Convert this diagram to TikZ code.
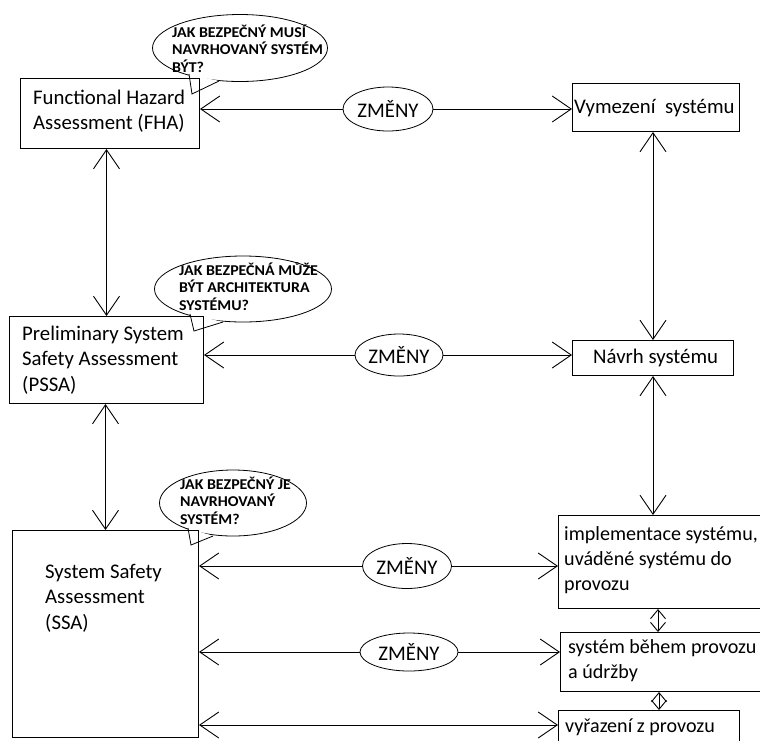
\documentclass[tikz,border=0pt]{standalone}
\usepackage{fontspec}
\setmainfont{Carlito}
\newfontfamily\notefont[FakeStretch=1.06]{Carlito}
\usetikzlibrary{arrows.meta,shapes.geometric,calc}
% several left-aligned lines, baseline at the first line
\newcommand\stacklines[1]{\begin{tabular}[t]{@{}l@{}}#1\end{tabular}}

\begin{document}
\begin{tikzpicture}[x=1pt,y=-1pt,
  box/.style={draw, line width=1pt, inner sep=0pt, anchor=north west},
  txt/.style={inner sep=0pt, anchor=base west, font=\fontsize{20.8}{25.6}\selectfont},
  txtr/.style={txt, font=\fontsize{20.1}{25}\selectfont},
  note/.style={inner sep=0pt, anchor=base west, font=\notefont\bfseries\fontsize{15}{17}\selectfont},
  chg/.style={draw, ellipse, line width=0.8pt, inner sep=0pt, font=\fontsize{20.8}{25.6}\selectfont},
  bubble/.style={draw, ellipse, line width=0.8pt, inner sep=0pt},
  barb/.tip={Straight Barb[length=19pt,width=26pt]},
  sbarb/.tip={Straight Barb[length=9pt,width=15pt]},
  link/.style={line width=0.9pt, -barb},
  both/.style={line width=0.9pt, barb-barb},
  short/.style={line width=0.9pt, sbarb-sbarb},
  tail/.style={line width=0.8pt, line join=miter}]

\useasboundingbox (0,0) rectangle (760,740);
\fill[white] (0,0) rectangle (760,740);

% speech bubbles (ellipse first, the tail base is blanked out)
\node[bubble, minimum width=175pt, minimum height=67pt] (q1) at (240,48) {};
\node[bubble, minimum width=177pt, minimum height=66pt] (q2) at (243,289) {};
\node[bubble, minimum width=147pt, minimum height=66pt] (q3) at (233,503) {};
\coordinate (q1a) at (189,74); \coordinate (q1t) at (192,94); \coordinate (q1b) at (219,81);
\coordinate (q2a) at (190,314); \coordinate (q2t) at (194,331); \coordinate (q2b) at (223,322);
\coordinate (q3a) at (188,528); \coordinate (q3t) at (191,545); \coordinate (q3b) at (213,536);
\fill[white] (q1a) -- (q1t) -- (q1b) -- cycle;
\fill[white] (q2a) -- (q2t) -- (q2b) -- cycle;
\fill[white] (q3a) -- (q3t) -- (q3b) -- cycle;

% process boxes
\node[box, minimum width=179pt, minimum height=70pt] (fha) at (20,78) {};
\node[box, minimum width=194pt, minimum height=87pt] (pssa) at (9,316) {};
\node[box, minimum width=186pt, minimum height=207pt] (ssa) at (12,530) {};
\node[box, minimum width=167pt, minimum height=48pt] (vym) at (572,83) {};
\node[box, minimum width=161pt, minimum height=35pt] (navrh) at (572,340) {};
\node[box, minimum width=222pt, minimum height=93pt] (impl) at (558,515) {};
\node[box, minimum width=220pt, minimum height=59pt] (prov) at (560,632) {};
\node[box, minimum width=181pt, minimum height=50pt] (vyr) at (558,710) {};

% bubble tails
\draw[tail] (q1a) -- (q1t) -- (q1b);
\draw[tail] (q2a) -- (q2t) -- (q2b);
\draw[tail] (q3a) -- (q3t) -- (q3b);

% change ellipses
\node[chg, minimum width=90pt, minimum height=44pt] (z1) at (388,109) {ZMĚNY};
\node[chg, minimum width=88pt, minimum height=42pt] (z2) at (399,355) {ZMĚNY};
\node[chg, minimum width=89pt, minimum height=45pt] (z3) at (407,566) {ZMĚNY};
\node[chg, minimum width=98pt, minimum height=38pt] (z4) at (409,652) {ZMĚNY};

% texts
\node[txt] (fha-t) at (33,104) {\stacklines{Functional Hazard\\Assessment (FHA)}};
\node[txt] (pssa-t) at (22,340) {\stacklines{Preliminary System\\Safety Assessment\\(PSSA)}};
\node[txt] (ssa-t) at (45,578) {\stacklines{System Safety\\Assessment\\(SSA)}};
\node[txt] (vym-t) at (574,113) {Vymezení\ \ systému};
\node[txt] (navrh-t) at (593,363) {Návrh systému};
\node[txtr] (impl-t) at (564,540) {\stacklines{implementace systému,\\uváděné systému do\\provozu}};
\node[txtr] (prov-t) at (568,653) {\stacklines{systém během provozu\\a údržby}};
\node[txtr] (vyr-t) at (565,732) {vyřazení z provozu};
\node[note] (q1-t) at (172,37) {\stacklines{JAK BEZPEČNÝ MUSÍ\\NAVRHOVANÝ SYSTÉM\\BÝT?}};
\node[note] (q2-t) at (179,275) {\stacklines{JAK BEZPEČNÁ MŮŽE\\BÝT ARCHITEKTURA\\SYSTÉMU?}};
\node[note] (q3-t) at (180,489) {\stacklines{JAK BEZPEČNÝ JE\\NAVRHOVANÝ\\SYSTÉM?}};

% horizontal connectors
\draw[link] (z1.west) -- (fha.east |- z1.west);
\draw[link] (z1.east) -- (vym.west |- z1.east);
\draw[link] (z2.west) -- (pssa.east |- z2.west);
\draw[link] (z2.east) -- (navrh.west |- z2.east);
\draw[link] (z3.west) -- (ssa.east |- z3.west);
\draw[link] (z3.east) -- (impl.west |- z3.east);
\draw[link] (z4.west) -- (ssa.east |- z4.west);
\draw[link] (z4.east) -- (prov.west |- z4.east);
\coordinate (r5) at ($(vyr.north west)+(0,15)$);
\draw[both] (ssa.east |- r5) -- (r5);

% vertical connectors
\draw[both] (pssa.north |- fha.south) -- (pssa.north);
\draw[both] (ssa.north |- pssa.south) -- (ssa.north);
\draw[both] (navrh.north |- vym.south) -- (navrh.north);
\draw[both] (navrh.south) -- (navrh.south |- impl.north);
\coordinate (c1) at ($(impl.south west)+(100,0)$);
\draw[short] (c1) -- (c1 |- prov.north);
\coordinate (c2) at ($(prov.south west)+(99,0)$);
\draw[short] (c2) -- (c2 |- vyr.north);

\end{tikzpicture}
\end{document}
